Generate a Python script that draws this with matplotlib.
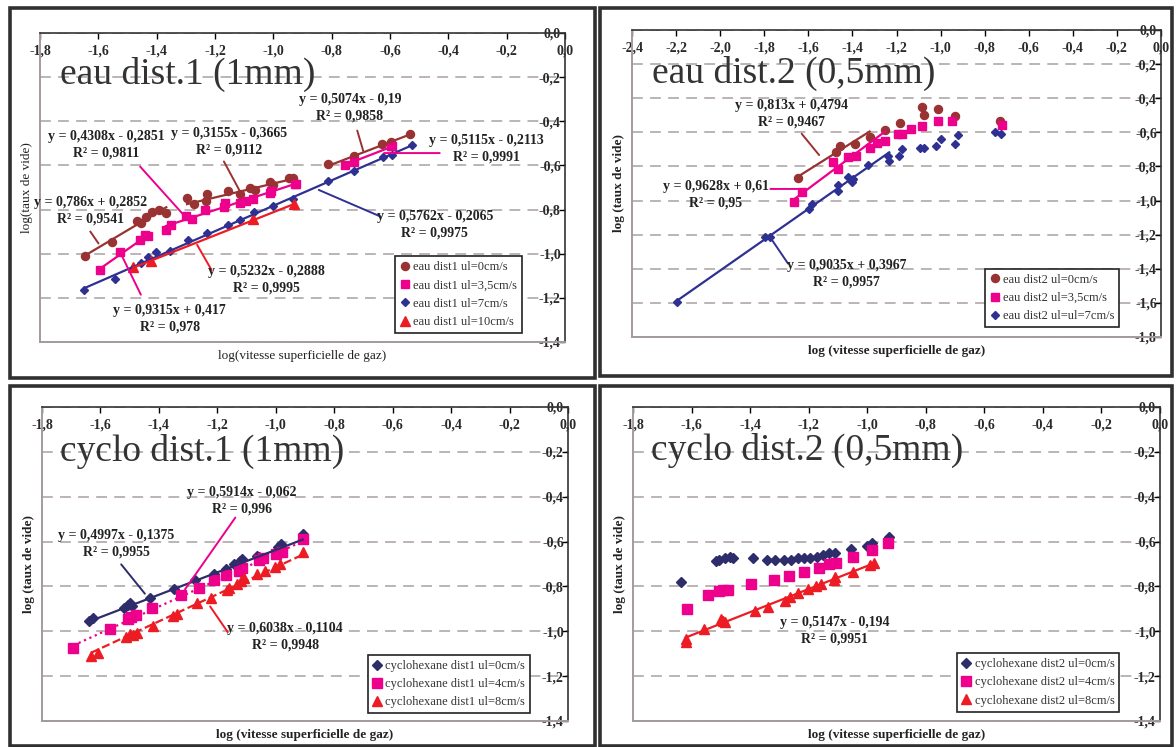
import numpy as np
import matplotlib.pyplot as plt
from matplotlib.patches import Rectangle

plt.rcParams['font.family'] = ['Liberation Serif', 'DejaVu Serif']

# ---------------- eau dist.1 (1mm) ----------------
eau1_0_x = [-1.645, -1.552, -1.469, -1.454, -1.435, -1.417, -1.393, -1.367,
            -1.296, -1.273, -1.232, -1.227, -1.157, -1.113, -1.080, -1.063, -1.010, -1.000, -0.945, -0.931,
            -0.813, -0.725, -0.627, -0.597, -0.530]
eau1_0_y = [-1.009, -0.949, -0.852, -0.862, -0.832, -0.810, -0.802, -0.814,
            -0.747, -0.777, -0.763, -0.729, -0.715, -0.730, -0.702, -0.712, -0.676, -0.688, -0.655, -0.656,
            -0.593, -0.556, -0.503, -0.496, -0.457]
eau1_35_x = [-1.594, -1.524, -1.456, -1.439, -1.430,
             -1.368, -1.351, -1.299, -1.279, -1.233, -1.168, -1.165, -1.113, -1.092, -1.069, -1.010, -1.008, -0.925, -0.921,
             -0.754, -0.724, -0.597, -0.593]
eau1_35_y = [-1.073, -0.994, -0.937, -0.916, -0.922,
             -0.892, -0.868, -0.829, -0.841, -0.802, -0.787, -0.772, -0.769, -0.762, -0.751, -0.724, -0.715, -0.682, -0.686,
             -0.599, -0.586, -0.514, -0.511]
eau1_7_x = [-1.650, -1.542, -1.454, -1.430, -1.404, -1.354, -1.291, -1.227, -1.157, -1.113,
            -1.065, -1.002, -0.931, -0.813, -0.724, -0.623, -0.593, -0.525]
eau1_7_y = [-1.164, -1.115, -1.040, -1.017, -0.994, -0.987, -0.937, -0.904, -0.871, -0.847,
            -0.811, -0.784, -0.751, -0.671, -0.626, -0.563, -0.551, -0.506]
eau1_10_x = [-1.480, -1.420, -1.069, -0.929]
eau1_10_y = [-1.059, -1.035, -0.844, -0.777]
# trendlines: slope, intercept, first index, last index (exclusive)
eau1_0_fits = [(0.786, 0.2852, 0, 8), (0.3155, -0.3665, 8, 20), (0.5074, -0.19, 20, 25)]
eau1_35_fits = [(0.9315, 0.417, 0, 5), (0.4308, -0.2851, 5, 19), (0.5115, -0.2113, 19, 23)]
eau1_7_fits = [(0.5762, -0.2065, 0, 18)]
eau1_10_fits = [(0.5232, -0.2888, 0, 4)]

# ---------------- eau dist.2 (0,5mm) ----------------
eau2_0_x = [-1.646, -1.476, -1.456, -1.389, -1.322, -1.250, -1.183, -1.083, -1.075, -1.013, -0.933, -0.732]
eau2_0_y = [-0.868, -0.713, -0.678, -0.670, -0.629, -0.586, -0.544, -0.450, -0.499, -0.466, -0.505, -0.532]
eau2_35_x = [-1.665, -1.630, -1.489, -1.467, -1.421, -1.384, -1.320, -1.287, -1.250, -1.195, -1.175,
             -1.136, -1.086, -1.013, -0.946, -0.720]
eau2_35_y = [-1.006, -0.950, -0.775, -0.816, -0.746, -0.736, -0.689, -0.660, -0.649, -0.612, -0.610,
             -0.579, -0.563, -0.532, -0.534, -0.557]
eau2_7_x = [-2.194, -1.798, -1.773, -1.598, -1.584, -1.467, -1.467, -1.421, -1.404, -1.396, -1.330, -1.238,
            -1.233, -1.187, -1.173, -1.095, -1.075, -1.021, -1.000, -0.936, -0.921, -0.752, -0.727]
eau2_7_y = [-1.592, -1.212, -1.212, -1.049, -1.023, -0.946, -0.909, -0.862, -0.889, -0.872, -0.794, -0.736,
            -0.771, -0.738, -0.699, -0.693, -0.691, -0.678, -0.641, -0.670, -0.616, -0.596, -0.612]
eau2_0_fits = [(0.813, 0.4794, 0, 5)]
eau2_35_fits = [(0.9628, 0.61, 0, 9)]
eau2_7_fits = [(0.9035, 0.3967, 0, 13)]

# ---------------- cyclo dist.1 (1mm) ----------------
cyc1_0_x = [-1.639, -1.625, -1.519, -1.506, -1.500, -1.491, -1.429, -1.348, -1.275, -1.213,
            -1.172, -1.143, -1.123, -1.114, -1.065, -1.056, -0.991, -0.981, -0.908]
cyc1_0_y = [-0.954, -0.942, -0.894, -0.882, -0.876, -0.887, -0.850, -0.812, -0.772, -0.745,
            -0.722, -0.700, -0.685, -0.678, -0.666, -0.670, -0.622, -0.613, -0.568]
cyc1_4_x = [-1.693, -1.568, -1.506, -1.494, -1.478, -1.423, -1.326, -1.262, -1.210, -1.169,
            -1.127, -1.114, -1.056, -1.043, -0.998, -0.979, -0.908]
cyc1_4_y = [-1.074, -0.992, -0.947, -0.936, -0.927, -0.894, -0.838, -0.805, -0.772, -0.748,
            -0.730, -0.718, -0.681, -0.673, -0.655, -0.645, -0.588]
cyc1_8_x = [-1.631, -1.607, -1.513, -1.500, -1.487, -1.474, -1.419, -1.352, -1.339, -1.268, -1.223,
            -1.168, -1.159, -1.133, -1.120, -1.110, -1.065, -1.036, -1.004, -0.985, -0.908]
cyc1_8_y = [-1.111, -1.096, -1.026, -1.014, -1.017, -1.007, -0.977, -0.932, -0.924, -0.876, -0.850,
            -0.817, -0.808, -0.790, -0.775, -0.763, -0.745, -0.733, -0.715, -0.700, -0.648]
cyc1_0_fits = [(0.4997, -0.1375, 0, 19)]
cyc1_4_fits = [(0.5914, -0.062, 0, 17)]
cyc1_8_fits = [(0.6038, -0.1104, 0, 21)]

# ---------------- cyclo dist.2 (0,5mm) ----------------
cyc2_0_x = [-1.637, -1.515, -1.505, -1.486, -1.470, -1.457, -1.389, -1.341, -1.316, -1.285, -1.260,
            -1.235, -1.216, -1.197, -1.172, -1.150, -1.130, -1.109, -1.055, -1.002, -0.983, -0.927]
cyc2_0_y = [-0.780, -0.686, -0.680, -0.675, -0.668, -0.672, -0.672, -0.680, -0.683, -0.680, -0.680,
            -0.675, -0.672, -0.672, -0.671, -0.660, -0.653, -0.650, -0.635, -0.618, -0.608, -0.581]
cyc2_4_x = [-1.615, -1.545, -1.505, -1.492, -1.477, -1.398, -1.319, -1.266, -1.216, -1.163,
            -1.130, -1.105, -1.050, -0.983, -0.929]
cyc2_4_y = [-0.900, -0.836, -0.821, -0.818, -0.815, -0.791, -0.770, -0.755, -0.735, -0.720,
            -0.698, -0.695, -0.671, -0.638, -0.608]
cyc2_8_x = [-1.620, -1.618, -1.558, -1.498, -1.492, -1.486, -1.383, -1.339, -1.281, -1.264,
            -1.235, -1.203, -1.176, -1.159, -1.115, -1.109, -1.049, -0.990, -0.977]
cyc2_8_y = [-1.035, -1.046, -0.990, -0.945, -0.953, -0.960, -0.908, -0.893, -0.863, -0.845,
            -0.830, -0.810, -0.800, -0.788, -0.770, -0.758, -0.735, -0.705, -0.695]
cyc2_8_fits = [(0.5147, -0.194, 0, 19)]

BROWN = '#993333'
PINK = '#EC008C'
BLUE = '#2E3192'
RED = '#ED1C24'
NAVY = '#2E2D6B'

W, H = 1176, 747
fig = plt.figure(figsize=(W / 100, H / 100), dpi=100)


def lab(v):
    s = f"{abs(v):.1f}".replace('.', ',')
    return s if abs(v) < 1e-9 else '-' + s


def make_axes(px, xmin, ymin, xlab, ylab, bold):
    l, t, r, b = px
    ax = fig.add_axes([l / W, 1 - b / H, (r - l) / W, (b - t) / H])
    ax.set_xlim(xmin, 0)
    ax.set_ylim(ymin, 0)
    ax.tick_params(axis='x', bottom=False, top=True, labelbottom=False, labeltop=True,
                   direction='in', length=4, width=1, pad=-18, labelsize=10, labelcolor='#2a2a2a')
    ax.tick_params(axis='y', left=False, right=True, labelleft=False, labelright=True,
                   direction='in', length=4, width=1, pad=-3, labelsize=10, labelcolor='#2a2a2a')
    xt = np.round(np.arange(xmin, 0.001, 0.2), 1)
    yt = np.round(np.arange(ymin, 0.001, 0.2), 1)
    ax.set_xticks(xt, [lab(v) for v in xt], fontweight='bold')
    ax.set_yticks(yt, [lab(v) for v in yt], fontweight='bold', ha='right')
    for s in ['top', 'right']:
        ax.spines[s].set_color('#333333')
        ax.spines[s].set_linewidth(1.2)
    for s in ['left', 'bottom']:
        ax.spines[s].set_color('#A39A9A')
        ax.spines[s].set_linewidth(1.4)
    ax.set_axisbelow(True)
    ax.grid(axis='y', color='#B8AFAF', linestyle=(0, (6, 4)), linewidth=1.3)
    w = 'bold' if bold else 'normal'
    ax.set_xlabel(xlab, fontsize=9.5, fontweight=w, labelpad=6, color='#222')
    ax.set_ylabel(ylab, fontsize=9.5, fontweight=w, labelpad=5, color='#222')
    return ax


def series(ax, xs, ys, fits, color, marker, ms, label, ls='-'):
    ax.plot(xs, ys, linestyle='none', marker=marker, ms=ms, color=color,
            markeredgecolor=color, label=label, zorder=3)
    xs = np.array(xs)
    for a, b, i0, i1 in fits:
        seg = xs[i0:i1]
        xx = np.array([seg.min(), seg.max()])
        ax.plot(xx, a * xx + b, color=color, lw=1.6, ls=ls, zorder=4)


def note(ax, text, tx, ty, color=None, p0=None, p1=None):
    ax.text(tx, ty, text, ha='center', va='center', fontsize=10, fontweight='bold',
            linespacing=1.35, color='#222', zorder=6)
    if p0 is not None:
        ax.annotate('', xy=p1, xytext=p0,
                    arrowprops=dict(arrowstyle='-', color=color, lw=1.4), zorder=5)


def title(ax, text, x, y):
    ax.text(x, y, text, ha='left', va='center', fontsize=27, color='#333333', zorder=6)


def legend(ax, anchor):
    leg = ax.legend(loc='lower right', bbox_to_anchor=anchor, fancybox=False, edgecolor='#222',
                    framealpha=1, fontsize=9, handlelength=0.7, handletextpad=0.3,
                    borderpad=0.4, labelspacing=0.5, borderaxespad=0)
    leg.get_frame().set_linewidth(1.2)
    for t in leg.get_texts():
        t.set_color('#333')


# panel frames
for (l, t, r, b) in [(10, 8, 595, 378), (600, 8, 1172, 376), (10, 386, 595, 746), (600, 386, 1172, 746)]:
    fig.add_artist(Rectangle((l / W, 1 - b / H), (r - l) / W, (b - t) / H, fill=False,
                             edgecolor='#303030', linewidth=2.6, transform=fig.transFigure))

# ---- panel 1
ax1 = make_axes((40, 33, 565, 342), -1.8, -1.4, 'log(vitesse superficielle de gaz)', 'log(taux de vide)', False)
series(ax1, eau1_0_x, eau1_0_y, eau1_0_fits, BROWN, 'o', 5.8, 'eau dist1 ul=0cm/s')
series(ax1, eau1_35_x, eau1_35_y, eau1_35_fits, PINK, 's', 5.8, 'eau dist1 ul=3,5cm/s')
series(ax1, eau1_7_x, eau1_7_y, eau1_7_fits, BLUE, 'D', 4, 'eau dist1 ul=7cm/s')
series(ax1, eau1_10_x, eau1_10_y, eau1_10_fits, RED, '^', 6.5, 'eau dist1 ul=10cm/s')
title(ax1, 'eau dist.1 (1mm)', -1.732, -0.19)
note(ax1, 'y = 0,5074x - 0,19\nR² = 0,9858', -0.737, -0.337, BROWN, (-0.715, -0.43), (-0.689, -0.547))
note(ax1, 'y = 0,5115x - 0,2113\nR² = 0,9991', -0.269, -0.523, PINK, (-0.42, -0.544), (-0.63, -0.544))
note(ax1, 'y = 0,4308x - 0,2851\nR² = 0,9811', -1.572, -0.508, PINK, (-1.463, -0.596), (-1.299, -0.837))
note(ax1, 'y = 0,3155x - 0,3665\nR² = 0,9112', -1.152, -0.493, BROWN, (-1.174, -0.571), (-1.113, -0.721))
note(ax1, 'y = 0,786x + 0,2852\nR² = 0,9541', -1.628, -0.805, BROWN, (-1.633, -0.889), (-1.594, -0.964))
note(ax1, 'y = 0,5762x - 0,2065\nR² = 0,9975', -0.446, -0.870, BLUE, (-0.623, -0.837), (-0.853, -0.706))
note(ax1, 'y = 0,5232x - 0,2888\nR² = 0,9995', -1.023, -1.120, RED, (-1.207, -1.085), (-1.266, -0.949))
note(ax1, 'y = 0,9315x + 0,417\nR² = 0,978', -1.355, -1.294, PINK, (-1.45, -1.197), (-1.522, -1.002))
legend(ax1, (0.918, 0.029))

# ---- panel 2
ax2 = make_axes((632, 30, 1161, 337), -2.4, -1.8, 'log (vitesse superficielle de gaz)', 'log (taux de vide)', True)
series(ax2, eau2_0_x, eau2_0_y, eau2_0_fits, BROWN, 'o', 5.8, 'eau dist2 ul=0cm/s')
series(ax2, eau2_35_x, eau2_35_y, eau2_35_fits, PINK, 's', 5.8, 'eau dist2 ul=3,5cm/s')
series(ax2, eau2_7_x, eau2_7_y, eau2_7_fits, BLUE, 'D', 4, 'eau dist2 ul=ul=7cm/s')
title(ax2, 'eau dist.2 (0,5mm)', -2.311, -0.256)
note(ax2, 'y = 0,813x + 0,4794\nR² = 0,9467', -1.676, -0.4925, BROWN, (-1.638, -0.596), (-1.543, -0.746))
note(ax2, 'y = 0,9628x + 0,61\nR² = 0,95', -2.019, -0.968, PINK, (-1.785, -0.932), (-1.63, -0.932))
note(ax2, 'y = 0,9035x + 0,3967\nR² = 0,9957', -1.426, -1.431, BLUE, (-1.685, -1.383), (-1.777, -1.208))
legend(ax2, (0.921, 0.032))

# ---- panel 3
ax3 = make_axes((42, 407, 568, 721), -1.8, -1.4, 'log (vitesse superficielle de gaz)', 'log (taux de vide)', True)
series(ax3, cyc1_0_x, cyc1_0_y, cyc1_0_fits, NAVY, 'D', 5.5, 'cyclohexane dist1 ul=0cm/s')
series(ax3, cyc1_4_x, cyc1_4_y, cyc1_4_fits, PINK, 's', 7.5, 'cyclohexane dist1 ul=4cm/s', ls=':')
series(ax3, cyc1_8_x, cyc1_8_y, cyc1_8_fits, RED, '^', 7.5, 'cyclohexane dist1 ul=8cm/s', ls='--')
title(ax3, 'cyclo dist.1 (1mm)', -1.738, -0.199)
note(ax3, 'y = 0,5914x - 0,062\nR² = 0,996', -1.116, -0.4165, PINK, (-1.133, -0.483), (-1.316, -0.823))
note(ax3, 'y = 0,4997x - 0,1375\nR² = 0,9955', -1.545, -0.608, NAVY, (-1.535, -0.692), (-1.442, -0.842))
note(ax3, 'y = 0,6038x - 0,1104\nR² = 0,9948', -0.968, -1.025, RED, (-1.159, -1.014), (-1.23, -0.879))
legend(ax3, (0.928, 0.024))

# ---- panel 4
ax4 = make_axes((633, 407, 1160, 721), -1.8, -1.4, 'log (vitesse superficielle de gaz)', 'log (taux de vide)', True)
series(ax4, cyc2_0_x, cyc2_0_y, [], NAVY, 'D', 5.5, 'cyclohexane dist2 ul=0cm/s')
series(ax4, cyc2_4_x, cyc2_4_y, [], PINK, 's', 7.5, 'cyclohexane dist2 ul=4cm/s')
series(ax4, cyc2_8_x, cyc2_8_y, cyc2_8_fits, RED, '^', 7.5, 'cyclohexane dist2 ul=8cm/s')
title(ax4, 'cyclo dist.2 (0,5mm)', -1.737, -0.195)
note(ax4, 'y = 0,5147x - 0,194\nR² = 0,9951', -1.112, -0.998)
legend(ax4, (0.923, 0.03))

fig.savefig('out.png', dpi=100)
